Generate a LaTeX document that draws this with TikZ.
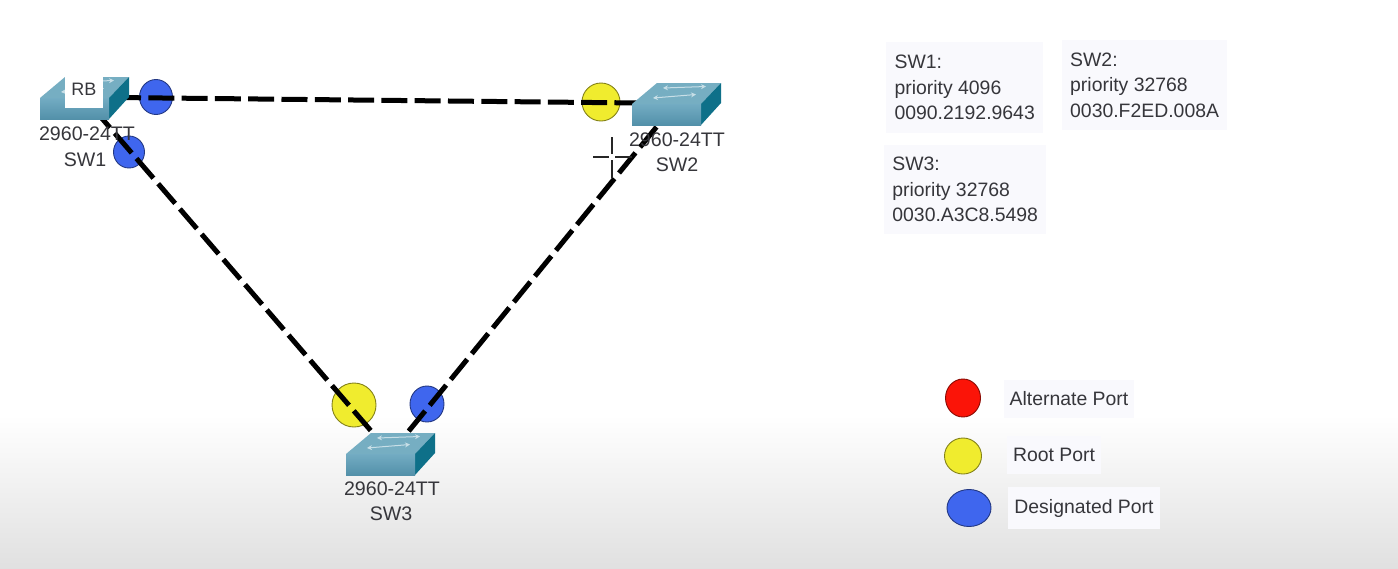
\documentclass[tikz,border=0pt]{standalone}
\usepackage{fontspec}
\setmainfont{Liberation Sans}
\definecolor{txt}{HTML}{36363B}
\definecolor{boxbg}{HTML}{F9F9FD}
\definecolor{frontc}{HTML}{5A9DB8}
\definecolor{topc}{HTML}{76AEC2}
\definecolor{sidec}{HTML}{0E7089}
\definecolor{bluep}{HTML}{3F66EE}
\definecolor{yellowp}{HTML}{F0EC2E}
\definecolor{redp}{HTML}{FB1408}
\tikzset{
  x=1pt,y=-1pt,
  link/.style={line width=5pt,black,dash pattern=on 26pt off 7.3pt},
  port/.style={ellipse,draw=#1!55!black,line width=0.9pt,fill=#1,inner sep=0pt},
  lab/.style={font=\fontsize{19.6}{25.5}\selectfont,text=txt,align=center,inner sep=0pt},
  info/.style={font=\fontsize{19.4}{25.5}\selectfont,text=txt,align=left,fill=boxbg,anchor=north west,inner ysep=7pt},
  legtext/.style={font=\fontsize{19.4}{22}\selectfont,text=txt,fill=boxbg,inner ysep=12pt,inner xsep=6pt},
  swbox/.style={inner sep=0pt,minimum width=89pt,minimum height=42pt},
}
\usetikzlibrary{shapes.geometric,arrows.meta}
% #1 name, #2 x, #3 y of the front face's upper left corner
\newcommand{\switchat}[3]{%
  \begin{scope}[shift={(#2,#3)}]
    \fill[topc] (0,0) -- (25,-21) -- (89,-21) -- (69,0) -- cycle;
    \fill[sidec] (69,0) -- (89,-21) -- (89,-1) -- (69,21) -- cycle;
    \shade[top color=frontc!85!white,bottom color=frontc!92!black] (0,0) rectangle (69,21);
    \draw[white!60!topc,line width=1pt,{Stealth[length=5pt,width=5pt]}-{Stealth[length=5pt,width=5pt]}] (31,-16) -- (74,-17.5);
    \draw[white!60!topc,line width=1pt,{Stealth[length=5pt,width=5pt]}-{Stealth[length=5pt,width=5pt]}] (21,-6) -- (64,-9.5);
    \node[swbox] (#1) at (44.5,0) {};
  \end{scope}}
\begin{document}
\begin{tikzpicture}
\useasboundingbox (0,0) rectangle (1398,568);
\fill[white] (0,0) rectangle (1398,430);
\shade[top color=white,bottom color=black!12] (0,415) rectangle (1398,568);

% ports
\node[port=bluep,minimum width=33pt,minimum height=35pt] (p1) at (156,97) {};
\node[port=bluep,minimum width=31pt,minimum height=32pt] (p2) at (129,152) {};
\node[port=yellowp,minimum width=38pt,minimum height=38pt] (p3) at (601,102) {};
\node[port=yellowp,minimum width=44pt,minimum height=44pt] (p4) at (354,405) {};
\node[port=bluep,minimum width=34pt,minimum height=36pt] (p5) at (427,404) {};

% connector ends
\coordinate (a1) at (115,97.5);
\coordinate (a2) at (640,103);
\coordinate (b1) at (93,108);
\coordinate (b2) at (372,432);
\coordinate (c1) at (656.5,127);
\coordinate (c2) at (408,432);
\draw[link] (a1) -- (a2);
\draw[link] (b1) -- (b2);
\draw[link] (c1) -- (c2);

% switches
\switchat{sw1}{40}{98}
\switchat{sw2}{632}{104}
\switchat{sw3}{346}{454}
\node[fill=white,inner sep=0pt,minimum width=38pt,minimum height=37pt,font=\fontsize{18}{20}\selectfont,text=txt] (rb) at (84,89) {RB};

\node[lab] (n1) at (87,134) {2960-24TT};
\node[lab] (n1b) at (85,160) {SW1};
\node[lab] (n2) at (677,140) {2960-24TT};
\node[lab] (n2b) at (677,165) {SW2};
\node[lab] (n3) at (392,489) {2960-24TT};
\node[lab] (n3b) at (391,514) {SW3};

% cursor cross
\draw[black!85,line width=2pt] (593,157) -- (609,157) (615,157) -- (632,157)
  (612,137) -- (612,154) (612,160) -- (612,178);

% info boxes
\node[info,inner xsep=6pt,minimum width=157pt,minimum height=91pt] (i1) at (886,42) {SW1:\\priority 4096\\0090.2192.9643};
\node[info,inner xsep=8pt,minimum width=162pt,minimum height=90pt] (i2) at (1062,40) {SW2:\\priority 32768\\0030.F2ED.008A};
\node[info,inner xsep=8pt,minimum width=162pt,minimum height=89pt] (i3) at (884,145) {SW3:\\priority 32768\\0030.A3C8.5498};

% legend
\node[port=redp,minimum width=35pt,minimum height=38pt] (l1) at (963,398) {};
\node[port=yellowp,minimum width=37pt,minimum height=36pt] (l2) at (963,456) {};
\node[port=bluep,minimum width=44pt,minimum height=37pt] (l3) at (969,508) {};
\node[legtext] (t1) at (1069,399) {Alternate Port};
\node[legtext] (t2) at (1054,455) {Root Port};
\node[legtext] (t3) at (1084,508) {Designated Port};
\end{tikzpicture}
\end{document}
